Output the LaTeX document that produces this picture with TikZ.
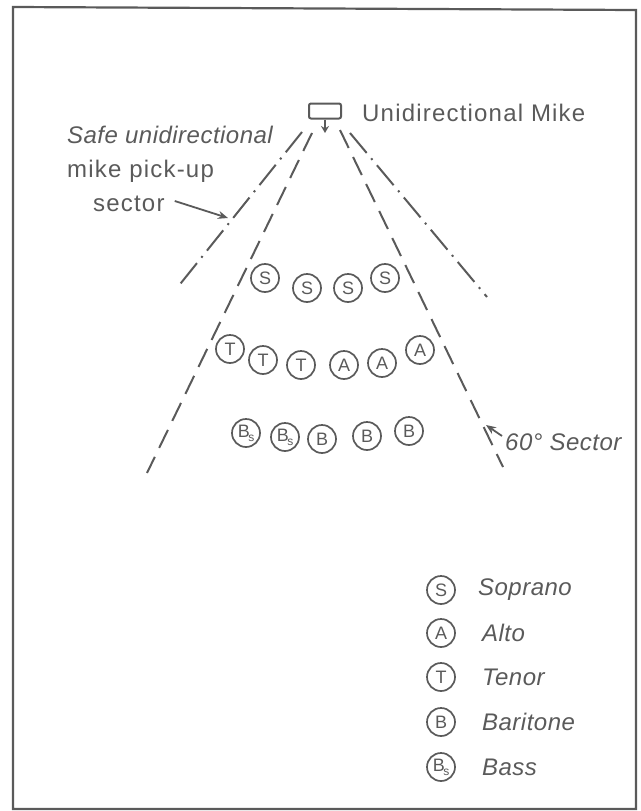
\documentclass[tikz,border=0pt]{standalone}
\usepackage{fontspec}
\setmainfont{Liberation Sans}
\newfontfamily\uplbl{Liberation Sans}[LetterSpace=5]
\newfontfamily\itlbl{Liberation Sans}[LetterSpace=2]
\usetikzlibrary{arrows.meta}
\definecolor{ink}{HTML}{5A5A5A}
\tikzset{
  ink/.style={draw=ink, line width=2pt},
  singer/.style={circle, draw=ink, line width=1.7pt, minimum size=28pt, inner sep=0pt, text=ink, font=\fontsize{18}{20}\selectfont},
  lbl/.style={text=ink, font=\uplbl\fontsize{24}{28}\selectfont, inner sep=0pt, anchor=west},
  ilbl/.style={lbl, font=\itlbl\fontsize{24}{28}\selectfont\itshape},
  sectordash/.style={ink, dash pattern=on 20pt off 10pt},
  safedash/.style={ink, dash pattern=on 26pt off 7pt on 2pt off 7pt},
  pointer/.style={ink, line width=1.8pt, -{Stealth[length=10pt,width=8pt]}}
}
\newcommand{\bsub}{B\kern-1.5pt\raisebox{-4pt}{\fontsize{12}{12}\selectfont s}}
\begin{document}
\begin{tikzpicture}[x=1pt,y=-1pt]
\useasboundingbox (0,0) rectangle (640,811);
% frame
\draw[ink, line width=2.2pt] (13,7) -- (636,10) -- (636,809) -- (13,809) -- cycle;
% mike
\node[draw=ink, line width=2pt, rounded corners=2pt, minimum width=32pt, minimum height=15pt, inner sep=0pt] (mike) at (325,111) {};
\coordinate (mtip) at (325,133);
\draw[ink, line width=2pt, -{Stealth[length=7pt,width=8pt]}] (mike.south) -- (mtip);
\node[lbl] (mlabel) at (362,113) {Unidirectional Mike};
% sector lines
\coordinate (lsafeA) at (302,132); \coordinate (lsafeB) at (177,288);
\coordinate (rsafeA) at (350,133); \coordinate (rsafeB) at (487,297);
\coordinate (lsecA) at (312,133); \coordinate (lsecB) at (147,473);
\coordinate (rsecA) at (340,130); \coordinate (rsecB) at (503,467);
\draw[safedash] (lsafeA) -- (lsafeB);
\draw[safedash] (rsafeA) -- (rsafeB);
\draw[sectordash] (lsecA) -- (lsecB);
\draw[sectordash] (rsecA) -- (rsecB);
% left label
\node[ilbl] (safe1) at (67,135) {Safe unidirectional};
\node[lbl] (safe2) at (67,171) {mike pick-up};
\node[lbl] (safe3) at (93,204) {sector};
\coordinate (safept) at (228,218);
\draw[pointer] (safe3.east) ++(10pt,3pt) -- (safept);
% right label
\node[ilbl] (sec60) at (505,442) {60° Sector};
\coordinate (secpt) at (486,425);
\draw[pointer] (502,436) -- (secpt);
% singers
\node[singer] (s1) at (265,278) {S};
\node[singer] (s2) at (307,288) {S};
\node[singer] (s3) at (348,288) {S};
\node[singer] (s4) at (385,278) {S};
\node[singer] (t1) at (230,349) {T};
\node[singer] (t2) at (263,360) {T};
\node[singer] (t3) at (301,365) {T};
\node[singer] (a1) at (344,365) {A};
\node[singer] (a2) at (382,363) {A};
\node[singer] (a3) at (420,350) {A};
\node[singer] (bs1) at (246,433) {\bsub};
\node[singer] (bs2) at (285,437) {\bsub};
\node[singer] (b1) at (322,439) {B};
\node[singer] (b2) at (367,436) {B};
\node[singer] (b3) at (409,431) {B};
% legend
\node[singer] (ls) at (441,590) {S};
\node[singer] (la) at (441,633) {A};
\node[singer] (lt) at (441,677) {T};
\node[singer] (lb) at (441,722) {B};
\node[singer] (lbs) at (441,767) {\bsub};
\node[ilbl] (tls) at (478,590) {Soprano};
\node[ilbl] (tla) at (482,633) {Alto};
\node[ilbl] (tlt) at (482,677) {Tenor};
\node[ilbl] (tlb) at (482,722) {Baritone};
\node[ilbl] (tlbs) at (482,767) {Bass};
\end{tikzpicture}
\end{document}
